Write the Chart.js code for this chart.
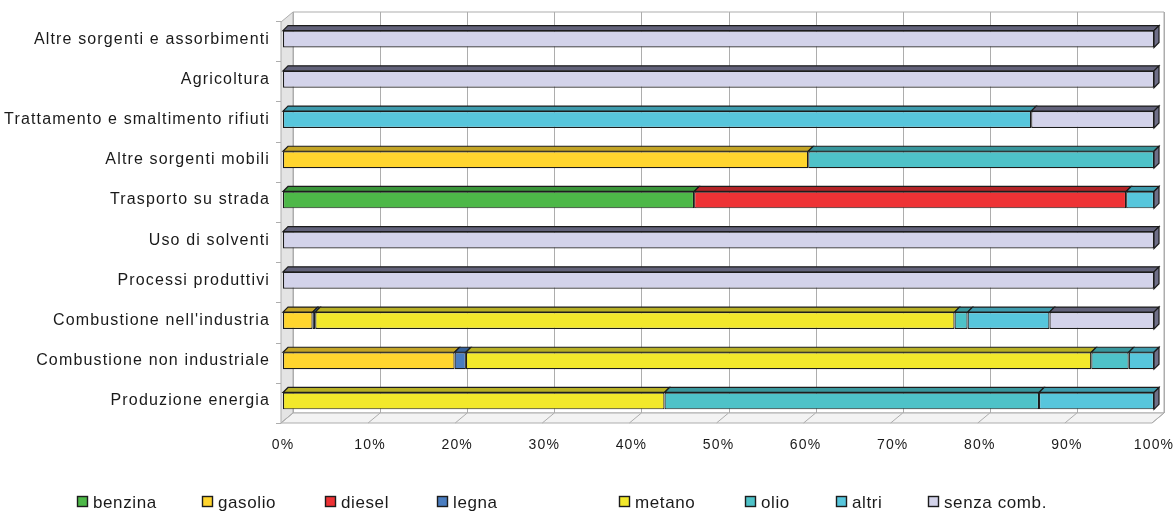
<!DOCTYPE html>
<html>
<head>
<meta charset="utf-8">
<script src="https://cdn.jsdelivr.net/npm/chart.js@4/dist/chart.umd.min.js"></script>
<style>
  html, body { margin: 0; padding: 0; background: #ffffff; }
  #wrap { width: 1176px; height: 512px; position: relative; }
</style>
</head>
<body>
<div id="wrap"><canvas id="chart" width="1176" height="512"></canvas></div>
<script>
// Emission sectors (top to bottom) and share of each fuel, in percent
const categories = [
  'Altre sorgenti e assorbimenti',
  'Agricoltura',
  'Trattamento e smaltimento rifiuti',
  'Altre sorgenti mobili',
  'Trasporto su strada',
  'Uso di solventi',
  'Processi produttivi',
  "Combustione nell'industria",
  'Combustione non industriale',
  'Produzione energia'
];
const seriesNames = ['benzina', 'gasolio', 'diesel', 'legna', 'metano', 'olio', 'altri', 'senza comb.'];

const benzina = [0, 0, 0, 0, 47.2, 0, 0, 0, 0, 0];
const gasolio = [0, 0, 0, 60.3, 0, 0, 0, 3.4, 19.7, 0];
const diesel  = [0, 0, 0, 0, 49.6, 0, 0, 0, 0, 0];
const legna   = [0, 0, 0, 0, 0, 0, 0, 0.3, 1.3, 0];
const metano  = [0, 0, 0, 0, 0, 0, 0, 73.4, 71.8, 43.8];
const olio    = [0, 0, 0, 39.7, 0, 0, 0, 1.5, 4.3, 43.0];
const altri   = [0, 0, 85.9, 0, 3.2, 0, 0, 9.4, 2.9, 13.2];
const senza   = [100, 100, 14.1, 0, 0, 100, 100, 12.0, 0, 0];

const xTicks = [0, 10, 20, 30, 40, 50, 60, 70, 80, 90, 100];

// Palette: front faces and the darker top faces of the 3D bars
const frontColors = ['#4DB848', '#FFD52E', '#EE3235', '#4A7DC0', '#F2E82B', '#4EC2C8', '#57C6DC', '#D3D3EA'];
const topColors   = ['#3B963A', '#C4A526', '#B42427', '#35609A', '#B8B024', '#38979D', '#3E9CAE', '#62627A'];

const seriesValues = [benzina, gasolio, diesel, legna, metano, olio, altri, senza];

const FONT = '"Liberation Sans", Arial, Helvetica, sans-serif';
const EDGE = '#1c1c1c';
const GRID = '#ADADAD';
const DEPTH = { dx: 12, dy: -10 };   // floor / walls depth
const BAR_DEPTH = { dx: 5, dy: -5 }; // bar thickness in depth

function poly(ctx, pts, fill, stroke, lw) {
  ctx.beginPath();
  ctx.moveTo(pts[0][0], pts[0][1]);
  for (let i = 1; i < pts.length; i++) ctx.lineTo(pts[i][0], pts[i][1]);
  ctx.closePath();
  if (fill) { ctx.fillStyle = fill; ctx.fill(); }
  if (stroke) { ctx.strokeStyle = stroke; ctx.lineWidth = lw || 1; ctx.stroke(); }
}

// Text spacing used by the axis labels
const spacingPlugin = {
  id: 'spacing',
  beforeDraw(chart) { chart.ctx.letterSpacing = '1.15px'; }
};

// Back wall, left wall and floor with the percentage grid
const framePlugin = {
  id: 'frame3d',
  beforeDatasetsDraw(chart) {
    const ctx = chart.ctx;
    const xs = chart.scales.x, ys = chart.scales.y;
    const area = chart.chartArea;
    const fx = v => xs.getPixelForValue(v) - 2;   // front edge of the floor
    const floorY = area.bottom + 2;
    const topY = area.top + 3;
    ctx.save();
    ctx.letterSpacing = '0px';
    // back wall
    poly(ctx, [
      [fx(0) + DEPTH.dx, topY + DEPTH.dy], [fx(100) + DEPTH.dx, topY + DEPTH.dy],
      [fx(100) + DEPTH.dx, floorY + DEPTH.dy], [fx(0) + DEPTH.dx, floorY + DEPTH.dy]
    ], '#ffffff', GRID, 1);
    // left wall
    poly(ctx, [
      [fx(0), topY], [fx(0) + DEPTH.dx, topY + DEPTH.dy],
      [fx(0) + DEPTH.dx, floorY + DEPTH.dy], [fx(0), floorY]
    ], '#E4E4E4', GRID, 1);
    // floor
    poly(ctx, [
      [fx(0), floorY], [fx(100), floorY],
      [fx(100) + DEPTH.dx, floorY + DEPTH.dy], [fx(0) + DEPTH.dx, floorY + DEPTH.dy]
    ], '#F3F3F3', GRID, 1);
    // grid lines on the back wall and on the floor
    ctx.strokeStyle = GRID;
    ctx.lineWidth = 1;
    xTicks.forEach(v => {
      const x = Math.round(fx(v) + DEPTH.dx) + 0.5;
      ctx.beginPath();
      ctx.moveTo(x, topY + DEPTH.dy);
      ctx.lineTo(x, floorY + DEPTH.dy);
      ctx.stroke();
      ctx.beginPath();
      ctx.moveTo(fx(v), floorY);
      ctx.lineTo(fx(v) + DEPTH.dx, floorY + DEPTH.dy);
      ctx.stroke();
    });
    // category tick marks on the left wall
    const n = categories.length;
    for (let i = 0; i <= n; i++) {
      const y = Math.round(ys.top + (ys.bottom - ys.top) * i / n) + 2.5;
      ctx.beginPath();
      ctx.moveTo(fx(0) - 5, y);
      ctx.lineTo(fx(0), y);
      ctx.stroke();
    }
    ctx.restore();
  }
};

// Top faces of every bar segment and the closing side face of each row
const barsPlugin = {
  id: 'bars3d',
  afterDatasetsDraw(chart) {
    const ctx = chart.ctx;
    ctx.save();
    const rowEnd = {};
    chart.data.datasets.forEach((ds, di) => {
      const meta = chart.getDatasetMeta(di);
      meta.data.forEach((el, i) => {
        if (!(ds.data[i] > 0)) return;
        const p = el.getProps(['x', 'y', 'base', 'height'], true);
        const x1 = Math.min(p.x, p.base), x2 = Math.max(p.x, p.base);
        const top = p.y - p.height / 2, bottom = p.y + p.height / 2;
        poly(ctx, [
          [x1, top], [x2, top],
          [x2 + BAR_DEPTH.dx, top + BAR_DEPTH.dy], [x1 + BAR_DEPTH.dx, top + BAR_DEPTH.dy]
        ], topColors[di], EDGE, 1.2);
        if (!rowEnd[i] || x2 >= rowEnd[i].x) rowEnd[i] = { x: x2, top, bottom };
      });
    });
    Object.values(rowEnd).forEach(r => {
      poly(ctx, [
        [r.x, r.top], [r.x + BAR_DEPTH.dx, r.top + BAR_DEPTH.dy],
        [r.x + BAR_DEPTH.dx, r.bottom + BAR_DEPTH.dy], [r.x, r.bottom]
      ], '#6F6F88', EDGE, 1.2);
    });
    ctx.restore();
  }
};

// Legend row under the axis
const legendPlugin = {
  id: 'legendRow',
  afterDraw(chart) {
    const ctx = chart.ctx;
    const xs = [77, 202, 325, 437, 619, 745, 836, 928];
    const yc = 502;
    ctx.save();
    ctx.letterSpacing = '0.6px';
    ctx.font = '17px ' + FONT;
    ctx.textBaseline = 'middle';
    ctx.textAlign = 'left';
    chart.data.datasets.forEach((ds, i) => {
      const x = xs[i];
      ctx.fillStyle = ds.backgroundColor;
      ctx.fillRect(x + 0.5, yc - 5.5, 10, 10);
      ctx.strokeStyle = EDGE;
      ctx.lineWidth = 1.4;
      ctx.strokeRect(x + 0.5, yc - 5.5, 10, 10);
      ctx.fillStyle = '#1a1a1a';
      ctx.fillText(ds.label, x + 16, yc + 1);
    });
    ctx.restore();
  }
};

new Chart(document.getElementById('chart'), {
  type: 'bar',
  data: {
    labels: categories,
    datasets: seriesNames.map((name, i) => ({
      label: name,
      data: seriesValues[i],
      backgroundColor: frontColors[i],
      borderColor: EDGE,
      borderWidth: 1.2,
      borderSkipped: false,
      barPercentage: 0.42,
      categoryPercentage: 1.0
    }))
  },
  options: {
    indexAxis: 'y',
    responsive: false,
    animation: false,
    devicePixelRatio: 1,
    layout: { padding: { top: 19, right: 22, left: 0, bottom: 0 } },
    plugins: {
      legend: { display: false },
      tooltip: { enabled: false }
    },
    scales: {
      x: {
        stacked: true,
        min: 0,
        max: 100,
        grid: { display: false },
        border: { display: false },
        afterFit(scale) {
          scale.height = 91;
          scale.paddingRight = 0;
          scale.paddingLeft = 0;
        },
        afterBuildTicks(scale) { scale.ticks = xTicks.map(v => ({ value: v })); },
        ticks: {
          padding: 8,
          color: '#1a1a1a',
          font: { family: FONT, size: 14 },
          maxRotation: 0,
          autoSkip: false,
          callback: v => v + '%'
        }
      },
      y: {
        stacked: true,
        grid: { display: false },
        border: { display: false },
        afterFit(scale) { scale.width = 283; },
        ticks: {
          padding: 5,
          color: '#1a1a1a',
          font: { family: FONT, size: 16 },
          autoSkip: false
        }
      }
    }
  },
  plugins: [spacingPlugin, framePlugin, barsPlugin, legendPlugin]
});
</script>
</body>
</html>
